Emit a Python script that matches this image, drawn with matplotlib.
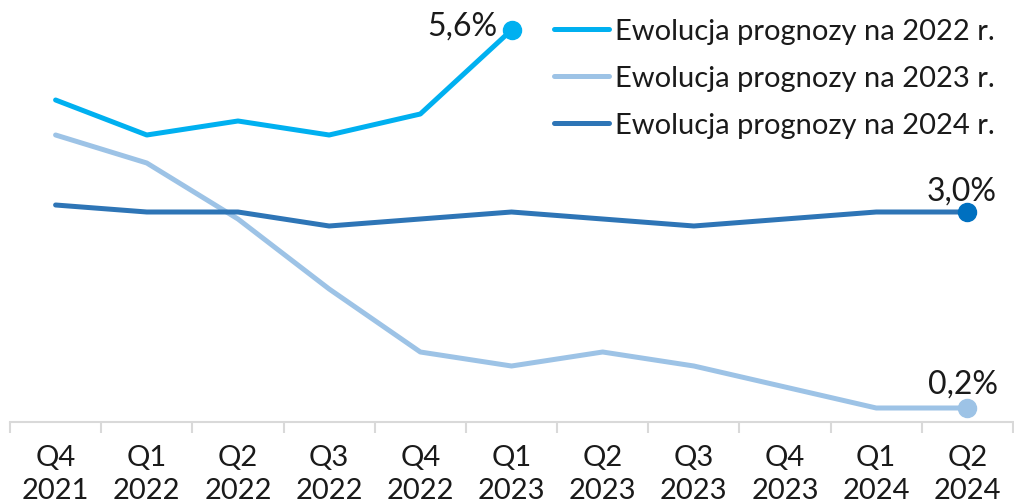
import matplotlib
matplotlib.use("Agg")
import matplotlib.pyplot as plt

categories = ["Q4\n2021", "Q1\n2022", "Q2\n2022", "Q3\n2022", "Q4\n2022", "Q1\n2023",
              "Q2\n2023", "Q3\n2023", "Q4\n2023", "Q1\n2024", "Q2\n2024"]
f2022 = [4.6, 4.1, 4.3, 4.1, 4.4, 5.6]
f2023 = [4.1, 3.7, 2.9, 1.9, 1.0, 0.8, 1.0, 0.8, 0.5, 0.2, 0.2]
f2024 = [3.1, 3.0, 3.0, 2.8, 2.9, 3.0, 2.9, 2.8, 2.9, 3.0, 3.0]
series_labels = ["Ewolucja prognozy na 2022 r.", "Ewolucja prognozy na 2023 r.",
                 "Ewolucja prognozy na 2024 r."]
end_labels = ["5,6%", "0,2%", "3,0%"]

plt.rcParams['font.family'] = ['Lato', 'DejaVu Sans']

fig = plt.figure(figsize=(10.14, 5.02), dpi=100)
ax = fig.add_axes([10/1014, (502-423)/502, 1003/1014, 420/502])

c22, c23, c24 = "#00B0F0", "#9DC3E6", "#2E75B6"
lw = 3.6
x22 = list(range(len(f2022)))
x = list(range(len(categories)))
ax.plot(x22, f2022, color=c22, lw=lw, solid_capstyle='round', solid_joinstyle='round', label=series_labels[0])
ax.plot(x, f2023, color=c23, lw=lw, solid_capstyle='round', solid_joinstyle='round', label=series_labels[1])
ax.plot(x, f2024, color=c24, lw=lw, solid_capstyle='round', solid_joinstyle='round', label=series_labels[2])

ms = 13
ax.plot(x22[-1], f2022[-1], 'o', color=c22, ms=ms)
ax.plot(x[-1], f2023[-1], 'o', color=c23, ms=ms)
ax.plot(x[-1], f2024[-1], 'o', color="#0070C0", ms=ms)

dfs = 23
tc = '#1a1a1a'
ax.annotate(end_labels[0], (x22[-1], f2022[-1]), xytext=(-10, -3), textcoords='offset points',
            ha='right', va='baseline', fontsize=dfs, color=tc)
ax.annotate(end_labels[1], (x[-1], f2023[-1]), xytext=(-3, 11), textcoords='offset points',
            ha='center', va='baseline', fontsize=dfs, color=tc)
ax.annotate(end_labels[2], (x[-1], f2024[-1]), xytext=(-4, 9), textcoords='offset points',
            ha='center', va='baseline', fontsize=dfs, color=tc)

ax.set_xlim(-0.5, len(categories) - 0.5)
ax.set_ylim(0, 6)
ax.set_yticks([])
for s in ['top', 'right', 'left']:
    ax.spines[s].set_visible(False)
ax.spines['bottom'].set_color('#d9d9d9')
ax.spines['bottom'].set_linewidth(1.5)

fs = 21
ax.set_xticks(x)
ax.set_xticklabels(categories, fontsize=fs, color=tc, linespacing=1.3)
ax.tick_params(axis='x', which='major', length=0, pad=16)
ax.set_xticks([i - 0.5 for i in range(len(categories) + 1)], minor=True)
ax.tick_params(axis='x', which='minor', length=8, width=1.5, color='#d9d9d9')

leg = ax.legend(loc='upper left', bbox_to_anchor=(554/1014, 1 - 19/502), bbox_transform=fig.transFigure,
                frameon=False, fontsize=fs, handlelength=1.9, handletextpad=0.2,
                labelspacing=0.72, borderaxespad=0, borderpad=0)
for t in leg.get_texts():
    t.set_color(tc)

fig.savefig("out.png", dpi=100)
